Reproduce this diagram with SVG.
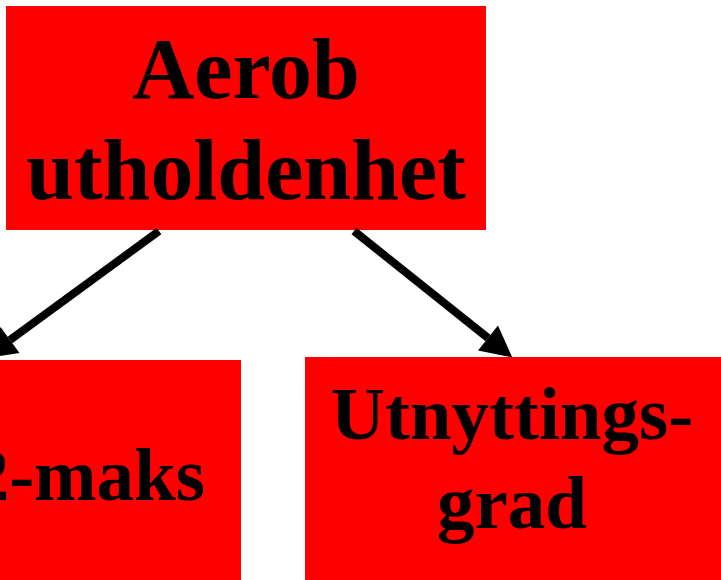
<svg xmlns="http://www.w3.org/2000/svg" width="721" height="580" viewBox="0 0 721 580">
<style>
.box{fill:#ff0000;stroke:none}
.lbl{font-family:"Liberation Serif","Times New Roman",serif;font-weight:bold;fill:#000;text-anchor:middle}
.big{font-size:86px}
.mid{font-size:75px}
.conn{stroke:#000;stroke-width:8;fill:none;marker-end:url(#ah)}
</style>
<defs>
<marker id="ah" markerUnits="userSpaceOnUse" markerWidth="32" markerHeight="32" refX="0" refY="16" orient="auto" overflow="visible">
<path d="M0,0 L31,16 L0,32 Z" fill="#000"/>
</marker>
</defs>
<g id="node-aerob">
<rect class="box" x="6" y="6" width="480" height="224"/>
<text class="lbl big" x="246" y="98">Aerob</text>
<text class="lbl big" x="246" y="199">utholdenhet</text>
</g>
<g id="node-vo2">
<rect class="box" x="-60" y="360" width="301" height="230"/>
<text class="lbl mid" x="205" y="500" style="text-anchor:end">2-maks</text>
</g>
<g id="node-utnyttingsgrad">
<rect class="box" x="305" y="357" width="420" height="230"/>
<text class="lbl mid" x="512" y="439">Utnyttings-</text>
<text class="lbl mid" x="512" y="528">grad</text>
</g>
<g id="connectors">
<line class="conn" x1="159" y1="231" x2="10" y2="340"/>
<line class="conn" x1="354" y1="231" x2="488" y2="338"/>
</g>
</svg>
